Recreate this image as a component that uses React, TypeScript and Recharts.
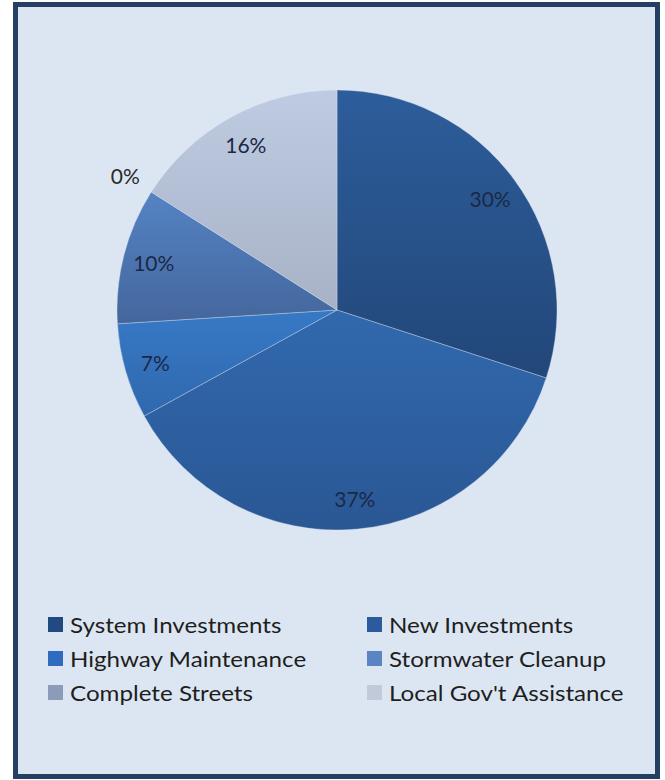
import React from 'react';
import { PieChart, Pie, Cell, Legend } from 'recharts';

// slice order: clockwise from 12 o'clock
const categories = [
  'System Investments',
  'New Investments',
  'Highway Maintenance',
  'Stormwater Cleanup',
  'Complete Streets',
  "Local Gov't Assistance",
];
const shares = [30, 37, 7, 10, 0, 16];

const topColors = ['#2d5d9b', '#3169ae', '#3779c6', '#5483c4', '#8394b6', '#bfcbe2'];
const bottomColors = ['#224779', '#2a5794', '#3068ad', '#44669c', '#6f7f9f', '#a7b2c6'];
const swatchColors = ['#224a80', '#2b5b9c', '#2f6cc0', '#5b84c2', '#8b9bb9', '#c2cada'];

const data = categories.map((name, i) => ({ name, value: shares[i] }));

const RAD = Math.PI / 180;

const renderLabel = (props: any) => {
  const { cx, cy, midAngle, outerRadius, value } = props;
  // the empty slice gets its label outside the pie
  const r = value === 0 ? outerRadius * 1.14 : outerRadius * 0.86;
  const x = cx + r * Math.cos(-midAngle * RAD);
  const y = cy + r * Math.sin(-midAngle * RAD);
  return (
    <text
      x={x}
      y={y}
      fill={value === 0 ? '#2a2a2a' : '#1a2946'}
      fontSize={21}
      fontFamily="Lato, 'Open Sans', sans-serif"
      textAnchor="middle"
      dominantBaseline="central"
    >
      {`${value}%`}
    </text>
  );
};

const renderLegend = () => (
  <div
    style={{
      display: 'grid',
      gridTemplateColumns: '319px 256px',
      rowGap: 10,
      fontFamily: "Lato, 'Open Sans', sans-serif",
      fontSize: 21,
      color: '#1e1e1e',
      whiteSpace: 'nowrap',
    }}
  >
    {categories.map((name, i) => (
      <div key={name} style={{ display: 'flex', alignItems: 'center', height: 24 }}>
        <span
          style={{
            display: 'inline-block',
            width: 15,
            height: 15,
            background: swatchColors[i],
            marginRight: 7,
            flex: 'none',
          }}
        />
        {/* reference text is a bit wide, stretch it */}
        <span style={{ display: 'inline-block', transform: 'scaleX(1.15)', transformOrigin: 'left center' }}>
          {name}
        </span>
      </div>
    ))}
  </div>
);

export default function App() {
  return (
    <div style={{ position: 'absolute', left: 0, top: 0, width: 665, height: 780, background: '#fff' }}>
      <div
        style={{
          position: 'absolute',
          left: 13,
          top: 2,
          width: 647,
          height: 777,
          boxSizing: 'border-box',
          border: '5px solid #253f62',
          background: '#dce6f2',
        }}
      />
      <div style={{ position: 'absolute', left: 0, top: 0 }}>
        <PieChart width={665} height={780} margin={{ top: 0, right: 0, bottom: 0, left: 0 }}>
          <defs>
            {topColors.map((c, i) => (
              <linearGradient key={i} id={`slice${i}`} x1="0" y1="0" x2="0" y2="1">
                <stop offset="0%" stopColor={c} />
                <stop offset="100%" stopColor={bottomColors[i]} />
              </linearGradient>
            ))}
          </defs>
          <Pie
            data={data}
            dataKey="value"
            nameKey="name"
            cx={337}
            cy={310}
            outerRadius={220}
            startAngle={90}
            endAngle={-270}
            stroke="rgba(220,230,242,0.35)"
            strokeWidth={1}
            label={renderLabel}
            labelLine={false}
            isAnimationActive={false}
          >
            {data.map((d, i) => (
              <Cell key={d.name} fill={`url(#slice${i})`} />
            ))}
          </Pie>
          <Legend
            content={renderLegend}
            verticalAlign="bottom"
            wrapperStyle={{ position: 'absolute', left: 48, top: 612, bottom: 'auto', width: 575 }}
          />
        </PieChart>
      </div>
    </div>
  );
}
